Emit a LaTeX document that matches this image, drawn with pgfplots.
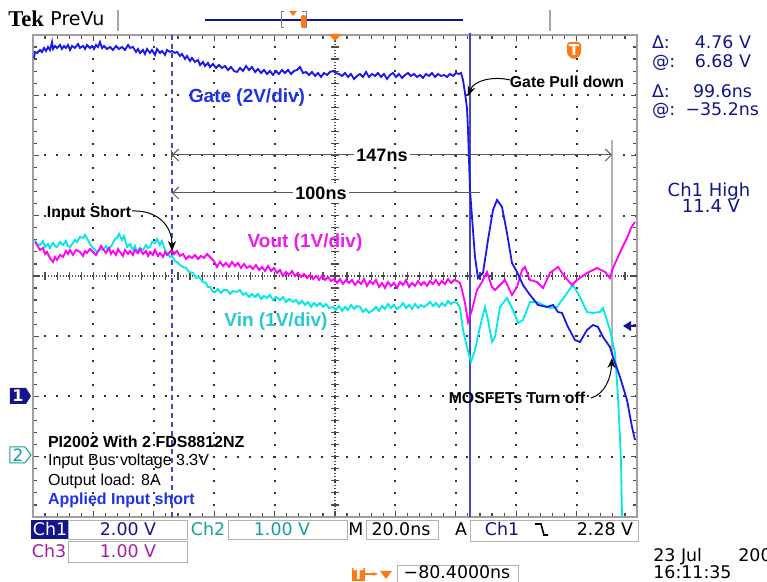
\documentclass[border=0pt]{standalone}
\usepackage{fontspec}
\setmainfont{Liberation Sans}
\newfontfamily\tekf{DejaVu Sans}
\newfontfamily\tekserif{Liberation Serif}
\usepackage{pgfplots}
\pgfplotsset{compat=1.18}
\usetikzlibrary{arrows.meta}

\definecolor{gatecol}{RGB}{25,25,235}
\definecolor{voutcol}{RGB}{255,0,255}
\definecolor{vincol}{RGB}{0,232,232}
\definecolor{gatelbl}{RGB}{30,50,230}
\definecolor{voutlbl}{RGB}{235,30,235}
\definecolor{vinlbl}{RGB}{40,200,210}
\definecolor{navy}{RGB}{20,20,140}
\definecolor{ch2col}{RGB}{20,160,160}
\definecolor{ch3col}{RGB}{165,30,165}
\definecolor{tekorange}{RGB}{255,120,20}
\definecolor{cursorcol}{RGB}{70,70,200}

% scope screen is 767x582 px, 1 px = 0.5 pt; data below in screen pixels
\newcommand\rd{\tekf\fontsize{8.7}{10}\selectfont}
\newcommand\lbl{\fontsize{9.5}{11}\selectfont\bfseries}
\newcommand\ann{\fontsize{7.9}{9}\selectfont\bfseries}

\begin{document}
\begin{tikzpicture}
\useasboundingbox (0,0) rectangle (383.5pt,291pt);
\clip (0,0) rectangle (383.5pt,291pt);
\fill[white] (0,0) rectangle (383.5pt,291pt);
\begin{axis}[
    at={(16.5pt,32.5pt)}, anchor=south west,
    width=302pt, height=241pt, scale only axis,
    xmin=33, xmax=637, ymin=35, ymax=517, y dir=reverse,
    xtick={33,93.4,153.8,214.2,274.6,335,395.4,455.8,516.2,576.6,637},
    ytick={35,95.25,155.5,215.75,276,336.25,396.5,456.75,517},
    xticklabels={}, yticklabels={},
    minor x tick num=4, minor y tick num=4,
    tick align=inside, major tick length=3pt, minor tick length=2pt,
    tick style={black!70, line width=0.6pt},
    grid=major,
    major grid style={black!80, line width=1pt, dash pattern=on 1pt off 5.03pt, dash phase=0.5pt},
    axis line style={draw=gray!75, line width=1.2pt},
    clip=false,
]
% centre cross of the graticule
\draw[black!70, line width=0.6pt, dash pattern=on 0.6pt off 0.9pt] (axis cs:33,276) -- (axis cs:637,276);
\draw[black!70, line width=0.6pt, dash pattern=on 0.6pt off 0.9pt] (axis cs:335,35) -- (axis cs:335,517);
\pgfplotsinvokeforeach{1,...,49}{
  \draw[black!70, line width=0.6pt] (axis cs:{33+12.08*#1},272) -- (axis cs:{33+12.08*#1},280);
}
\pgfplotsinvokeforeach{1,...,39}{
  \draw[black!70, line width=0.6pt] (axis cs:331,{35+12.05*#1}) -- (axis cs:339,{35+12.05*#1});
}

% cursors
\draw[cursorcol, line width=0.8pt, dash pattern=on 2.5pt off 2pt] (axis cs:172,35) -- (axis cs:172,517);
\draw[cursorcol, line width=0.8pt] (axis cs:470,33) -- (axis cs:470,517);
\draw[gray!60, line width=0.6pt] (axis cs:612,140) -- (axis cs:612,355);

% Vin
\addplot[vincol, line width=0.9pt] coordinates {
(35,240) (37,244) (40,245) (43,241) (45,247) (48,244) (50,248) (53,243) (55,246) (57,247) (60,242) (63,245) (66,241) (68,246) (70,247) (73,243) (75,240) (77,242) (80,237) (83,238) (85,235) (88,240) (90,244) (92,247) (95,250) (97,252) (100,249) (103,250) (106,246) (108,250) (110,248) (113,243) (115,239) (117,238) (119,234) (122,240) (124,236) (127,247) (130,244) (133,250) (135,246) (137,252) (140,248) (143,250) (146,245) (148,248) (150,247) (152,242) (155,243) (157,239) (160,245) (162,241) (165,250) (167,253) (170,257) (172,256) (175,261) (177,262) (180,265) (183,267) (186,268) (189,272) (193,273) (196,278) (199,277) (203,282) (206,283) (208,287) (210,287) (213,292) (215,292) (218,289) (221,293) (224,290) (227,290) (230,294) (233,291) (237,292) (240,290) (243,295) (246,293) (249,297) (252,294) (255,297) (258,294) (261,299) (264,296) (267,298) (270,295) (273,300) (276,297) (280,300) (283,297) (286,302) (289,299) (293,302) (296,300) (299,304) (302,301) (305,305) (308,302) (311,307) (314,303) (317,306) (320,303) (323,307) (326,304) (329,308) (333,307) (336,310) (339,306) (342,311) (345,307) (348,310) (351,305) (354,309) (357,306) (360,307) (363,312) (366,309) (369,313) (373,310) (376,307) (379,311) (382,306) (385,309) (388,304) (391,308) (394,305) (397,309) (400,307) (403,303) (406,308) (409,305) (412,309) (415,304) (418,308) (421,305) (424,307) (427,305) (430,302) (433,306) (436,303) (439,307) (442,303) (445,306) (448,301) (451,304) (454,302) (457,303) (460,308) (463,330) (467,347) (471,362) (475,350) (480,327) (485,307) (488,320) (492,342) (495,337) (500,307) (507,298) (513,310) (518,323) (523,320) (530,302) (537,302) (543,305) (550,308) (557,307) (567,293) (573,285) (580,297) (587,312) (593,313) (600,312) (603,308) (610,330) (615,353) (618,397) (621,460) (622,517)
};
% Vout
\addplot[voutcol, line width=0.9pt] coordinates {
(35,242) (37,245) (40,250) (43,248) (45,254) (47,252) (50,258) (53,262) (55,257) (57,260) (60,255) (63,257) (66,251) (68,254) (70,250) (73,255) (76,250) (80,252) (83,256) (85,251) (87,253) (90,249) (93,252) (96,255) (99,250) (101,246) (103,249) (106,253) (109,248) (111,254) (113,251) (116,255) (118,249) (120,252) (123,256) (125,250) (128,254) (130,251) (133,255) (135,250) (138,253) (140,249) (143,254) (146,251) (148,256) (150,252) (153,255) (155,250) (158,256) (160,253) (163,257) (165,252) (167,255) (170,252) (172,250) (174,254) (177,251) (180,256) (183,254) (186,259) (189,256) (192,258) (195,255) (198,259) (201,256) (204,258) (207,254) (210,257) (213,260) (215,263) (217,267) (220,262) (223,266) (226,263) (229,267) (232,262) (235,266) (238,263) (241,268) (244,264) (247,268) (250,266) (253,269) (256,265) (259,270) (262,267) (265,271) (268,266) (271,271) (274,268) (277,273) (280,270) (283,276) (286,272) (289,275) (292,271) (295,276) (298,273) (301,277) (304,274) (307,278) (310,275) (313,279) (316,276) (319,280) (322,276) (325,280) (328,277) (331,281) (334,279) (337,283) (340,279) (343,284) (346,280) (349,283) (352,280) (355,285) (358,281) (361,284) (364,279) (367,286) (370,281) (373,284) (376,280) (379,287) (382,283) (385,288) (388,282) (391,286) (394,283) (397,288) (400,282) (403,285) (406,280) (409,287) (412,283) (415,286) (418,281) (421,285) (424,282) (427,286) (430,281) (433,284) (436,280) (439,285) (442,281) (445,284) (448,279) (451,283) (454,280) (457,281) (460,283) (462,290) (465,303) (468,322) (472,310) (477,290) (482,282) (487,272) (492,287) (495,290) (500,285) (505,280) (512,295) (517,287) (522,270) (525,267) (530,280) (537,282) (543,288) (550,273) (558,267) (565,277) (572,285) (577,280) (587,273) (597,268) (605,272) (610,278) (613,268) (618,257) (622,248) (627,238) (631,228) (635,222)
};
% Gate
\addplot[gatecol, line width=0.9pt] coordinates {
(34,58) (35,52) (37,53) (40,50) (42,52) (44,48) (46,51) (48,47) (50,50) (52,42) (53,49) (55,46) (57,48) (60,45) (62,49) (64,46) (66,48) (68,45) (70,50) (72,46) (75,48) (78,44) (80,48) (83,46) (85,49) (87,45) (90,48) (92,46) (94,49) (96,45) (98,47) (100,42) (102,48) (104,46) (107,49) (110,47) (113,50) (116,46) (119,49) (122,47) (125,50) (128,45) (130,48) (133,47) (136,52) (138,49) (140,53) (143,50) (145,54) (147,49) (150,53) (152,50) (155,55) (157,49) (160,53) (162,51) (165,55) (167,50) (170,52) (172,51) (175,53) (177,52) (180,56) (182,54) (185,59) (187,56) (190,61) (192,58) (195,62) (198,60) (200,65) (203,62) (205,66) (208,63) (210,67) (213,64) (216,68) (219,65) (222,68) (225,66) (228,70) (231,67) (234,71) (237,72) (240,68) (243,71) (246,66) (249,70) (252,67) (255,72) (258,69) (261,73) (264,70) (267,74) (270,71) (273,75) (276,71) (279,74) (282,70) (285,73) (288,70) (291,74) (294,71) (297,70) (300,67) (303,73) (306,72) (309,75) (312,72) (315,76) (318,73) (321,77) (324,73) (327,75) (330,72) (333,71) (336,73) (339,74) (342,76) (345,73) (348,77) (351,74) (354,79) (357,76) (360,74) (363,77) (366,72) (369,77) (372,74) (375,76) (378,73) (381,77) (384,74) (387,79) (390,75) (393,73) (396,77) (399,74) (402,78) (405,75) (408,73) (411,76) (414,74) (417,77) (420,75) (423,78) (426,74) (429,76) (432,73) (435,77) (438,74) (441,76) (444,75) (447,77) (450,74) (453,76) (456,73) (459,74) (461,73) (463,80) (465,93) (467,108) (468,130) (469,160) (470,190) (472,217) (475,257) (478,278) (483,273) (488,240) (493,210) (497,200) (502,207) (507,233) (512,263) (517,272) (523,285) (530,295) (538,305) (547,307) (553,305) (558,312) (562,313) (568,327) (575,340) (580,342) (587,330) (593,325) (598,327) (603,337) (610,347) (613,357) (620,377) (627,400) (632,427) (635,440)
};

% time measurements
\draw[black!65, line width=0.5pt, {Straight Barb[length=3pt]}-{Straight Barb[length=3pt]}] (axis cs:172,155) -- (axis cs:612,155);
\draw[black!65, line width=0.5pt] (axis cs:172,150) -- (axis cs:172,160);
\node[fill=white, inner sep=1pt, anchor=base, font=\fontsize{9}{10}\selectfont\bfseries] at (axis cs:382,161.5) {147ns};
\draw[black!65, line width=0.5pt, {Straight Barb[length=3pt]}-] (axis cs:172,193) -- (axis cs:480,193);
\node[fill=white, inner sep=1pt, anchor=base, font=\fontsize{9}{10}\selectfont\bfseries] at (axis cs:321,199.5) {100ns};

% trace labels
\node[anchor=base, text=gatelbl, font=\lbl] at (axis cs:247,103) {Gate (2V/div)};
\node[anchor=base, text=voutlbl, font=\lbl] at (axis cs:305,248) {Vout (1V/div)};
\node[anchor=base, text=vinlbl, font=\lbl] at (axis cs:276,327) {Vin (1V/div)};

% annotations
\node[anchor=base, font=\ann] at (axis cs:89,218) {Input Short};
\draw[black, line width=0.5pt, -{Stealth[length=5pt,width=4pt]}] (axis cs:132,211) .. controls (axis cs:158,210) and (axis cs:172,226) .. (axis cs:172,251);
\node[anchor=base, font=\ann] at (axis cs:567,88) {Gate Pull down};
\draw[black, line width=0.5pt, -{Stealth[length=5pt,width=4pt]}] (axis cs:510,80) .. controls (axis cs:494,76) and (axis cs:474,80) .. (axis cs:468,96);
\node[anchor=base, font=\ann] at (axis cs:517,403.5) {MOSFETs Turn off};
\draw[black, line width=0.5pt, -{Stealth[length=5pt,width=4pt]}] (axis cs:591,398) .. controls (axis cs:605,394) and (axis cs:611,378) .. (axis cs:612,358);

% setup notes
\node[anchor=base west, font=\fontsize{8}{9}\selectfont\bfseries] at (axis cs:41,448) {PI2002 With 2 FDS8812NZ};
\node[anchor=base west, font=\fontsize{8}{9}\selectfont] at (axis cs:41,466) {Input Bus voltage 3.3V};
\node[anchor=base west, font=\fontsize{8}{9}\selectfont] at (axis cs:41,486) {Output load: 8A};
\node[anchor=base west, text=gatelbl, font=\fontsize{8}{9}\selectfont\bfseries] at (axis cs:41,505) {Applied Input short};

% top status line
\node[anchor=base west, inner sep=0pt, font=\tekserif\fontsize{11.3}{12}\selectfont\bfseries] at (axis cs:8,27) {Tek};
\node[anchor=base west, inner sep=0pt, font=\tekf\fontsize{9.5}{10}\selectfont] at (axis cs:50,26) {PreVu};
\draw[gray!70, line width=0.6pt] (axis cs:118,10) -- (axis cs:118,31);
\draw[gray!70, line width=0.6pt] (axis cs:550,10) -- (axis cs:550,31);
\draw[navy, line width=0.6pt] (axis cs:205,20) -- (axis cs:463,20);
\draw[gray, line width=0.5pt] (axis cs:284,12) -- (axis cs:281,12) -- (axis cs:281,28) -- (axis cs:284,28);
\draw[gray, line width=0.5pt] (axis cs:302,12) -- (axis cs:306,12) -- (axis cs:306,28) -- (axis cs:302,28);
\fill[tekorange] (axis cs:289,11) -- (axis cs:297,11) -- (axis cs:293,16) -- cycle;
\fill[tekorange, rounded corners=1pt] (axis cs:301,15) rectangle (axis cs:306,28);
\fill[tekorange] (axis cs:328,34) -- (axis cs:342,34) -- (axis cs:335,41) -- cycle;
\fill[tekorange, rounded corners=1.5pt] (axis cs:567,42) -- (axis cs:581,42) -- (axis cs:581,55) -- (axis cs:574,60) -- (axis cs:567,55) -- cycle;
\node[text=white, inner sep=0pt, font=\tekf\fontsize{7.5}{8}\selectfont\bfseries] at (axis cs:574,50) {T};

% channel markers
\fill[navy] (axis cs:10,388) -- (axis cs:26,388) -- (axis cs:31,396) -- (axis cs:26,404) -- (axis cs:10,404) -- cycle;
\node[text=white, inner sep=0pt, font=\tekf\fontsize{8}{9}\selectfont\bfseries] at (axis cs:18,396) {1};
\draw[ch2col, line width=0.5pt, fill=white] (axis cs:10,447) -- (axis cs:25,447) -- (axis cs:31,455) -- (axis cs:25,463) -- (axis cs:10,463) -- cycle;
\node[text=ch2col, inner sep=0pt, font=\tekf\fontsize{8.5}{9}\selectfont] at (axis cs:18,455) {2};
\fill[navy] (axis cs:623,326) -- (axis cs:631,321) -- (axis cs:631,331) -- cycle;
\draw[navy, line width=0.6pt] (axis cs:629,326) -- (axis cs:636,326);

% cursor readouts
\node[anchor=base west, text=navy, font=\rd] at (axis cs:645,49) {Δ:};
\node[anchor=base east, text=navy, font=\rd] at (axis cs:758,49) {4.76 V};
\node[anchor=base west, text=navy, font=\rd] at (axis cs:645,67.5) {@:};
\node[anchor=base east, text=navy, font=\rd] at (axis cs:758,67.5) {6.68 V};
\node[anchor=base west, text=navy, font=\rd] at (axis cs:645,97.5) {Δ:};
\node[anchor=base east, text=navy, font=\rd] at (axis cs:759,97.5) {99.6ns};
\node[anchor=base west, text=navy, font=\rd] at (axis cs:645,115.5) {@:};
\node[anchor=base east, text=navy, font=\rd] at (axis cs:766,115.5) {−35.2ns};
\node[anchor=base, text=navy, font=\tekf\fontsize{9}{10}\selectfont] at (axis cs:709,196.5) {Ch1 High};
\node[anchor=base, text=navy, font=\tekf\fontsize{9}{10}\selectfont] at (axis cs:711,212.5) {11.4 V};

% bottom settings bar
\fill[navy] (axis cs:31,520) rectangle (axis cs:68,539);
\node[anchor=base, text=white, font=\rd] at (axis cs:50,536) {Ch1};
\draw[gray!60, line width=0.5pt] (axis cs:69,521) rectangle (axis cs:188,540);
\node[anchor=base, text=navy, font=\rd] at (axis cs:128,536) {2.00 V};
\node[anchor=base, text=ch2col, font=\rd] at (axis cs:208,536) {Ch2};
\draw[gray!60, line width=0.5pt] (axis cs:228,521) rectangle (axis cs:347,540);
\node[anchor=base, text=ch2col, font=\rd] at (axis cs:282,536) {1.00 V};
\node[anchor=base, font=\rd] at (axis cs:356,536) {M};
\draw[gray!60, line width=0.5pt] (axis cs:366,521) rectangle (axis cs:438,540);
\node[anchor=base, font=\rd] at (axis cs:401,536) {20.0ns};
\node[anchor=base, font=\rd] at (axis cs:461,536) {A};
\draw[gray!60, line width=0.5pt] (axis cs:470,521) rectangle (axis cs:638,542);
\node[anchor=base, text=navy, font=\rd] at (axis cs:502,536) {Ch1};
\draw[black, line width=0.8pt] (axis cs:535,524) -- (axis cs:541,524) -- (axis cs:544,535) -- (axis cs:548,535);
\node[anchor=base, font=\rd] at (axis cs:605,536) {2.28 V};
\node[anchor=base, text=ch3col, font=\rd] at (axis cs:49,558) {Ch3};
\draw[gray!60, line width=0.5pt] (axis cs:69,542) rectangle (axis cs:188,563);
\node[anchor=base, text=ch3col, font=\rd] at (axis cs:128,558) {1.00 V};
\node[anchor=base west, inner sep=0pt, font=\rd] at (axis cs:653,562) {23 Jul};
\node[anchor=base west, inner sep=0pt, font=\rd] at (axis cs:738,562) {2005};
\node[anchor=base west, inner sep=0pt, font=\rd] at (axis cs:653,579) {16:11:35};
\fill[tekorange] (axis cs:352,568) rectangle (axis cs:365,581);
\node[text=white, inner sep=0pt, font=\tekf\fontsize{7.5}{8}\selectfont\bfseries] at (axis cs:358.5,574.5) {T};
\draw[tekorange, line width=0.8pt, -{Stealth[length=2.5pt]}] (axis cs:365,574) -- (axis cs:378,574);
\fill[tekorange] (axis cs:380,571) -- (axis cs:392,571) -- (axis cs:386,579) -- cycle;
\draw[gray!60, line width=0.5pt] (axis cs:397,566) rectangle (axis cs:518,590);
\node[anchor=base, inner sep=0pt, font=\rd] at (axis cs:457,579) {−80.4000ns};
\end{axis}
\end{tikzpicture}
\end{document}
